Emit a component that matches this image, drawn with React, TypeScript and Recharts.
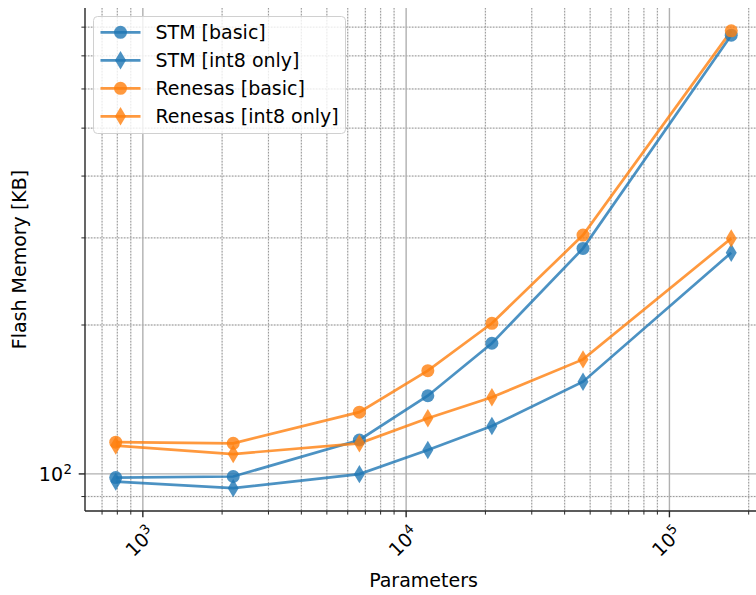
import React from 'react';
import { LineChart, Line, XAxis, YAxis, CartesianGrid, Legend } from 'recharts';

// ---- data ----
const params = [789, 2204, 6644, 12090, 21170, 46970, 171700];
const stmBasic = [98.3, 98.8, 117.1, 143.9, 183.7, 285.7, 770.7];
const stmInt8 = [96.5, 93.6, 99.9, 111.8, 125.0, 153.6, 280.0];
const renesasBasic = [115.9, 115.3, 133.3, 161.7, 201.6, 304.0, 786.3];
const renesasInt8 = [114.1, 109.7, 115.3, 129.6, 142.9, 170.4, 299.3];

const seriesNames = ['STM [basic]', 'STM [int8 only]', 'Renesas [basic]', 'Renesas [int8 only]'];
const seriesKeys = ['stmBasic', 'stmInt8', 'renesasBasic', 'renesasInt8'];
const seriesColors = ['#1f77b4', '#1f77b4', '#ff7f0e', '#ff7f0e'];
const seriesMarkers = ['circle', 'diamond', 'circle', 'diamond'];

const xMajorTicks = [1000, 10000, 100000];
const xMinorTicks = [700, 800, 900, 2000, 3000, 4000, 5000, 6000, 7000, 8000, 9000,
  20000, 30000, 40000, 50000, 60000, 70000, 80000, 90000, 200000];
const yMajorTicks = [100];
const yMinorTicks = [90, 200, 300, 400, 500, 600, 700, 800];
const xDomain = [603, 224700];
const yDomain = [84.15, 874.6];
const xTitle = 'Parameters';
const yTitle = 'Flash Memory [KB]';

const data = params.map((p, i) => ({
  params: p,
  stmBasic: stmBasic[i],
  stmInt8: stmInt8[i],
  renesasBasic: renesasBasic[i],
  renesasInt8: renesasInt8[i],
}));

const FONT = 'DejaVu Sans';
const FS = 19;
const SUP = 13.3;
const SPINE = '#262626';

const isMajor = (v: number) => {
  const l = Math.log10(v);
  return Math.abs(l - Math.round(l)) < 1e-9;
};

const XTick = (props: any) => {
  const { x, y, payload } = props;
  const v = payload.value;
  const major = isMajor(v);
  const exp = Math.round(Math.log10(v));
  return (
    <g>
      <line x1={x} x2={x} y1={y} y2={y + (major ? 6.3 : 3.6)} stroke={SPINE} strokeWidth={major ? 1.4 : 1} />
      {major && (
        <g transform={`translate(${x - 2},${y + 31}) rotate(-45)`}>
          <text x={0} y={6} textAnchor="middle" fontSize={FS} fontFamily={FONT} fill="#000">
            10<tspan dy={-7.5} fontSize={SUP}>{exp}</tspan>
          </text>
        </g>
      )}
    </g>
  );
};

const YTick = (props: any) => {
  const { x, y, payload } = props;
  const v = payload.value;
  const major = isMajor(v);
  const exp = Math.round(Math.log10(v));
  return (
    <g>
      <line x1={x - (major ? 6.3 : 3.6)} x2={x} y1={y} y2={y} stroke={SPINE} strokeWidth={major ? 1.4 : 1} />
      {major && (
        <text x={x - 22} y={y + 7.5} textAnchor="end" fontSize={FS} fontFamily={FONT} fill="#000">
          10
        </text>
      )}
      {major && (
        <text x={x - 21.5} y={y + 0.5} textAnchor="start" fontSize={SUP} fontFamily={FONT} fill="#000">
          {exp}
        </text>
      )}
    </g>
  );
};

const XTitle = (props: any) => {
  const vb = props.viewBox || { x: 85, y: 511, width: 677, height: 84 };
  return (
    <text x={vb.x + vb.width / 2} y={vb.y + vb.height - 8} textAnchor="middle" fontSize={FS} fontFamily={FONT} fill="#000">
      {xTitle}
    </text>
  );
};

const YTitle = (props: any) => {
  const vb = props.viewBox || { x: 0, y: 8, width: 85, height: 503 };
  const cy = vb.y + vb.height / 2;
  const bx = vb.x + 25.5;
  return (
    <text x={bx} y={cy} transform={`rotate(-90 ${bx} ${cy})`} textAnchor="middle" fontSize={FS} fontFamily={FONT} fill="#000">
      {yTitle}
    </text>
  );
};

const markerShape = (shape: string, cx: number, cy: number, color: string, key: any) => {
  if (shape === 'circle') {
    return <circle key={key} cx={cx} cy={cy} r={6.5} fill={color} fillOpacity={0.8} />;
  }
  return (
    <path
      key={key}
      d={`M${cx},${cy - 9.2}L${cx + 5.5},${cy}L${cx},${cy + 9.2}L${cx - 5.5},${cy}Z`}
      fill={color}
      fillOpacity={0.8}
    />
  );
};

const makeDot = (color: string, shape: string) => (props: any) => {
  const { cx, cy, index } = props;
  if (cx == null || cy == null) return <g key={`e${index}`} />;
  return markerShape(shape, cx, cy, color, `d${index}`);
};

const LegendBox = () => {
  const w = 253;
  const h = 118;
  return (
    <svg width={w} height={h} style={{ display: 'block' }}>
      <rect x={0.5} y={0.5} width={w - 1} height={h - 1} rx={4} ry={4} fill="#fff" fillOpacity={0.8} stroke="#d0d0d0" strokeWidth={1} />
      {seriesNames.map((name, i) => {
        const cy = 16.3 + i * 28;
        return (
          <g key={name}>
            <line x1={7.5} x2={47.5} y1={cy} y2={cy} stroke={seriesColors[i]} strokeOpacity={0.8} strokeWidth={2.7} />
            {markerShape(seriesMarkers[i], 27.5, cy, seriesColors[i], `m${i}`)}
            <text x={62.5} y={cy + 7} fontSize={FS} fontFamily={FONT} fill="#000">
              {name}
            </text>
          </g>
        );
      })}
    </svg>
  );
};

export default function App() {
  const allX = [...xMajorTicks, ...xMinorTicks].sort((a, b) => a - b);
  const allY = [...yMajorTicks, ...yMinorTicks].sort((a, b) => a - b);
  return (
    <div style={{ position: 'absolute', left: 0, top: 0, width: 756, height: 595, overflow: 'hidden', background: '#fff' }}>
      <LineChart width={762} height={595} data={data} margin={{ top: 8, right: 0, bottom: 0, left: 0 }}>
        <CartesianGrid horizontalValues={yMinorTicks} verticalValues={xMinorTicks} stroke="#e6e6e6" strokeWidth={1.4} />
        <CartesianGrid horizontalValues={yMinorTicks} verticalValues={xMinorTicks} stroke="#999999" strokeWidth={1} strokeDasharray="1.4 1.6" />
        <CartesianGrid horizontalValues={yMajorTicks} verticalValues={xMajorTicks} stroke="#b0b0b0" strokeWidth={1.4} />
        <XAxis
          dataKey="params"
          type="number"
          scale="log"
          domain={xDomain}
          allowDataOverflow
          ticks={allX}
          interval={0}
          tick={XTick}
          tickLine={false}
          tickSize={0}
          tickMargin={0}
          height={84}
          axisLine={{ stroke: SPINE, strokeWidth: 1.4 }}
          label={{ content: XTitle }}
        />
        <XAxis
          xAxisId="top"
          orientation="top"
          type="number"
          scale="log"
          domain={xDomain}
          allowDataOverflow
          tick={false}
          tickLine={false}
          height={0}
          axisLine={{ stroke: SPINE, strokeWidth: 1.4 }}
        />
        <YAxis
          type="number"
          scale="log"
          domain={yDomain}
          allowDataOverflow
          ticks={allY}
          interval={0}
          tick={YTick}
          tickLine={false}
          tickSize={0}
          tickMargin={0}
          width={85}
          axisLine={{ stroke: SPINE, strokeWidth: 1.4 }}
          label={{ content: YTitle }}
        />
        {seriesKeys.map((k, i) => (
          <Line
            key={k}
            dataKey={k}
            name={seriesNames[i]}
            stroke={seriesColors[i]}
            strokeOpacity={0.8}
            strokeWidth={2.7}
            dot={makeDot(seriesColors[i], seriesMarkers[i])}
            activeDot={false}
            isAnimationActive={false}
          />
        ))}
        <Legend
          layout="horizontal"
          verticalAlign="middle"
          align="center"
          content={LegendBox}
          wrapperStyle={{ position: 'absolute', left: 93, top: 16, width: 253, height: 118 }}
        />
      </LineChart>
    </div>
  );
}
